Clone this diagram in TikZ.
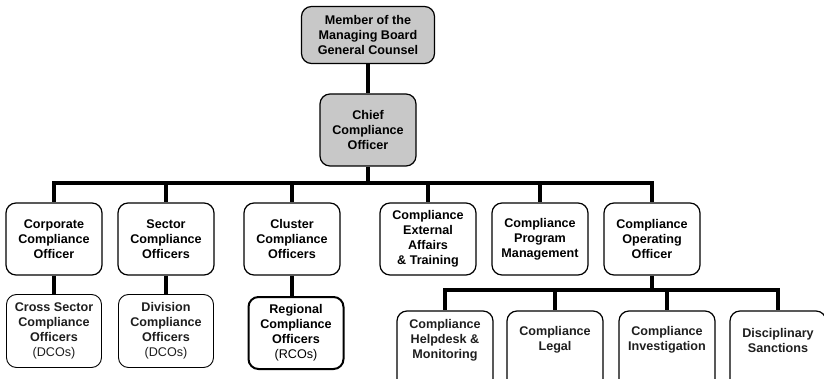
\documentclass[tikz,border=0pt]{standalone}
\usepackage{fontspec}
\setmainfont{Liberation Sans}
\definecolor{boardgray}{HTML}{C8C8C8}
\definecolor{softtext}{HTML}{1E1E1E}
\tikzset{
  boxfont/.style={font=\fontsize{12.6}{15}\selectfont\bfseries},
  box/.style={draw, boxfont, rounded corners=10pt, line width=1.2pt,
    minimum width=96pt, minimum height=72pt, align=center, inner sep=1pt},
  headbox/.style={box, fill=boardgray},
  subbox/.style={box, line width=0.9pt, text=softtext, minimum width=95pt, minimum height=73pt},
  keybox/.style={box, line width=2pt, minimum width=95pt},
  lowbox/.style={box, minimum height=90pt,
    label={[boxfont, align=center, text=softtext, yshift=16pt]center:#1}},
  bar/.style={line width=4pt},
}
\begin{document}
\begin{tikzpicture}[x=1pt,y=-1pt,line join=miter]
  \useasboundingbox (0,0) rectangle (824,379);
  % top of the tree
  \node[headbox, minimum width=133pt, minimum height=57pt] (board) at (368,35) {Member of the\\Managing Board\\General Counsel};
  \node[headbox] (cco) at (368,130) {Chief\\Compliance\\Officer};
  % first level
  \node[box] (corp) at (54,239) {Corporate\\Compliance\\Officer};
  \node[box] (sector) at (166,239) {Sector\\Compliance\\Officers};
  \node[box] (cluster) at (292,239) {Cluster\\Compliance\\Officers};
  \node[box] (extaff) at (428,239) {Compliance\\External\\Affairs\\\& Training};
  \node[box] (program) at (540,239) {Compliance\\Program\\Management};
  \node[box] (cooff) at (652,239) {Compliance\\Operating\\Officer};
  % second level, left
  \node[subbox] (cross) at (54,331) {Cross Sector\\Compliance\\Officers\\{\mdseries (DCOs)}};
  \node[subbox] (division) at (166,331) {Division\\Compliance\\Officers\\{\mdseries (DCOs)}};
  \node[keybox] (regional) at (296,333) {Regional\\Compliance\\Officers\\{\mdseries (RCOs)}};
  % second level, right
  \node[lowbox={Compliance\\Helpdesk \&\\Monitoring}] (helpdesk) at (445,356) {};
  \node[lowbox={Compliance\\Legal}] (legal) at (555,356) {};
  \node[lowbox={Compliance\\Investigation}] (invest) at (667,356) {};
  \node[lowbox={Disciplinary\\Sanctions}] (sanction) at (778,356) {};
  % connectors
  \coordinate (hub) at (368,183);
  \coordinate (ophub) at (652,290);
  \draw[bar] (board) -- (cco);
  \draw[bar] (cco) -- (hub);
  \foreach \c in {corp,sector,cluster,extaff,program,cooff}
    \draw[bar] (hub) -| (\c);
  \draw[bar] (cooff) -- (ophub);
  \foreach \c in {helpdesk,legal,invest,sanction}
    \draw[bar] (ophub) -| (\c);
  \draw[bar] (corp) -- (cross);
  \draw[bar] (sector) -- (division);
  \draw[bar] (cluster.south) -- (cluster.south |- regional.north);
\end{tikzpicture}
\end{document}
